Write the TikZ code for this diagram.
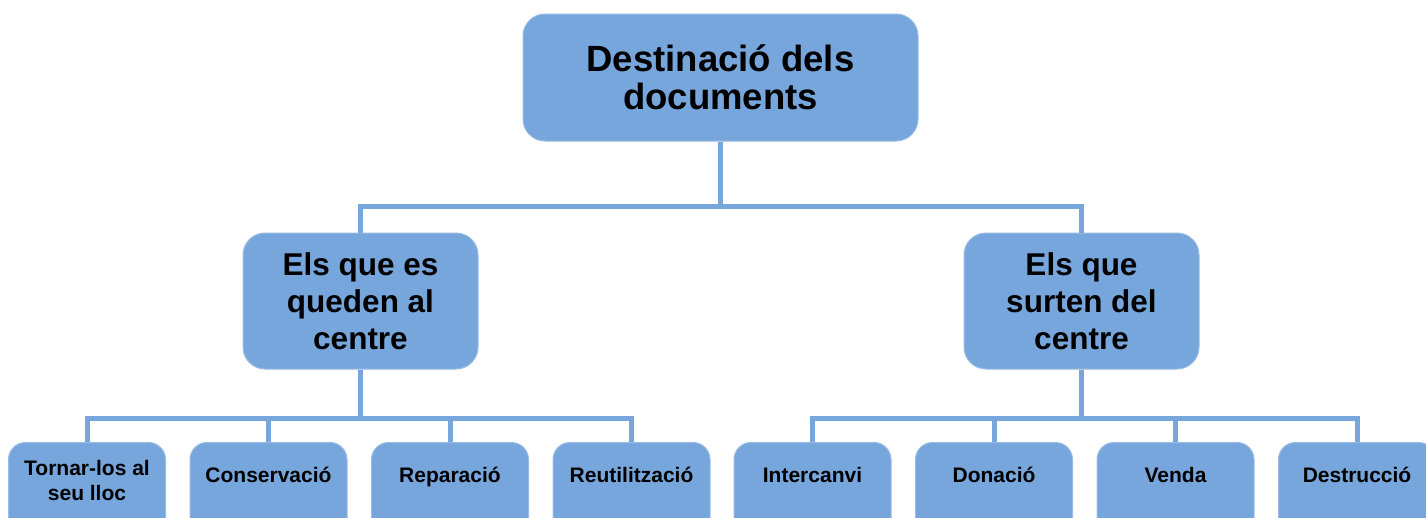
\documentclass[tikz,border=0pt]{standalone}
\usepackage{fontspec}
\setmainfont{Liberation Sans}
\usetikzlibrary{calc}
\definecolor{boxblue}{RGB}{118,166,219}

\begin{document}
\begin{tikzpicture}[x=1pt, y=-1pt,
		box/.style={fill=boxblue, draw=boxblue!75!white, line width=1pt, rounded corners=22pt, align=center},
		leaf/.style={box, minimum width=157pt, minimum height=95pt, rounded corners=17pt, anchor=north},
		leaftxt/.style={align=center, font=\fontsize{21}{25}\selectfont\bfseries},
		conn/.style={draw=boxblue, line width=5pt}]
		\useasboundingbox (0,0) rectangle (1426,517);
		\coordinate (busA) at (0, 206);
		\coordinate (busB) at (0, 418);

		\node[box, minimum width=395pt, minimum height=127pt, font=\fontsize{36.5}{38.5}\selectfont\bfseries] (dest) at (720.5, 77.5) {Destinació dels\\documents};
		\node[box, minimum width=235pt, minimum height=136pt, font=\fontsize{31.5}{37}\selectfont\bfseries] (queden) at (360.5, 301) {Els que es\\queden al\\centre};
		\node[box, minimum width=235pt, minimum height=136pt, font=\fontsize{31.5}{37}\selectfont\bfseries] (surten) at (1081.5, 301) {Els que\\surten del\\centre};

		\node[leaf] (tornar)  at (87,    442) {};
		\node[leaf] (conserv) at (268.5, 442) {};
		\node[leaf] (repar)   at (450,   442) {};
		\node[leaf] (reutil)  at (631.5, 442) {};
		\node[leaf] (interc)  at (812.5, 442) {};
		\node[leaf] (donac)   at (994,   442) {};
		\node[leaf] (venda)   at (1175.5, 442) {};
		\node[leaf] (destr)   at (1357,  442) {};

		\node[leaftxt] (tornar-t) at ($(tornar.north)+(0, 38)$) {Tornar-los al\\seu lloc};
		\node[leaftxt, anchor=base] (conserv-t) at ($(conserv.north)+(0, 40)$) {Conservació};
		\node[leaftxt, anchor=base] (repar-t)   at ($(repar.north)+(0, 40)$) {Reparació};
		\node[leaftxt, anchor=base] (reutil-t)  at ($(reutil.north)+(0, 40)$) {Reutilització};
		\node[leaftxt, anchor=base] (interc-t)  at ($(interc.north)+(0, 40)$) {Intercanvi};
		\node[leaftxt, anchor=base] (donac-t)   at ($(donac.north)+(0, 40)$) {Donació};
		\node[leaftxt, anchor=base] (venda-t)   at ($(venda.north)+(0, 40)$) {Venda};
		\node[leaftxt, anchor=base] (destr-t)   at ($(destr.north)+(0, 40)$) {Destrucció};

		% upper level
		\draw[conn] (dest.south) -- (dest.south |- busA);
		\draw[conn] (queden.north) |- (busA -| dest.south) -| (surten.north);

		% lower level
		\draw[conn] (queden.south) -- (queden.south |- busB);
		\draw[conn] (tornar.north) |- (busB -| queden.south) -| (reutil.north);
		\draw[conn] (surten.south) -- (surten.south |- busB);
		\draw[conn] (interc.north) |- (busB -| surten.south) -| (destr.north);
		\foreach \n in {conserv, repar, donac, venda}
			\draw[conn] (\n.north) -- (\n.north |- busB);
	\end{tikzpicture}
\end{document}
